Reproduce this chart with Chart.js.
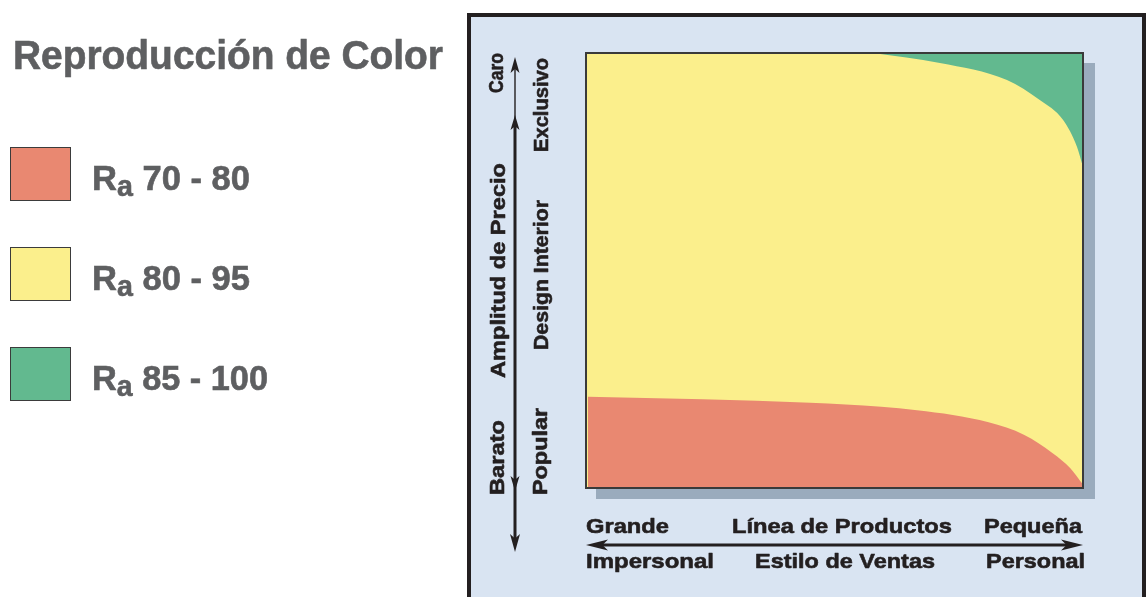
<!DOCTYPE html>
<html><head><meta charset="utf-8">
<script src="https://cdn.jsdelivr.net/npm/chart.js@4.4.1/dist/chart.umd.min.js"></script>
<style>
html,body{margin:0;padding:0;background:#fff;width:1148px;height:597px;overflow:hidden;}
#wrap{position:relative;width:1148px;height:597px;}
#c{position:absolute;left:0;top:0;}
.t{position:absolute;font-family:"Liberation Sans",Arial,sans-serif;font-weight:bold;color:#5e5f61;white-space:nowrap;transform-origin:0 0;line-height:1;-webkit-text-stroke:0.6px #5e5f61;}
.box{position:absolute;left:10px;width:61px;height:54px;box-sizing:border-box;border:1.5px solid #3b3b3b;}
.sub{font-size:29px;position:relative;top:6px;}
</style></head>
<body><div id="wrap">
<canvas id="c" width="1148" height="597"></canvas>
<div class="t" id="title" style="left:13px;top:35px;font-size:40px;" data-w="430">Reproducción de Color</div>
<div class="box" style="top:147px;background:#e98871;"></div>
<div class="box" style="top:247px;background:#fbef8c;"></div>
<div class="box" style="top:347px;background:#62b98f;"></div>
<div class="t" id="l1" style="left:92px;top:160px;font-size:35px;" data-w="158"><span>R</span><span class="sub">a</span><span> 70 - 80</span></div>
<div class="t" id="l2" style="left:92px;top:260px;font-size:35px;" data-w="158"><span>R</span><span class="sub">a</span><span> 80 - 95</span></div>
<div class="t" id="l3" style="left:92px;top:360px;font-size:35px;" data-w="176"><span>R</span><span class="sub">a</span><span> 85 - 100</span></div>
</div>
<script>
// ---- data (x: 0..100 across plot, y: 0..100 up) ----
const redX    = [0.4, 23.5, 45.1, 59.4, 66.6, 73.8, 81.0, 88.2, 93.9, 97.5, 100];
const redY    = [21.0, 20.4, 19.6, 18.7, 17.9, 16.8, 15.1, 12.2, 8.0, 4.5, 0.8];
const greenX  = [57.7, 71.2, 84.7, 91.3, 96.0, 98.8, 100];
const greenY  = [100, 97.7, 93.8, 89.2, 84.6, 78.4, 73.8];
const yellowX = [0, 100];
const yellowY = [100, 100];
const seriesLabels = ['Ra 70 - 80', 'Ra 80 - 95', 'Ra 85 - 100'];
const yLabelsOuter = ['Caro', 'Amplitud de Precio', 'Barato'];
const yLabelsInner = ['Exclusivo', 'Design Interior', 'Popular'];
const xLabelsTop = ['Grande', 'Línea de Productos', 'Pequeña'];
const xLabelsBottom = ['Impersonal', 'Estilo de Ventas', 'Personal'];

const FONT = '"Liberation Sans",Arial,sans-serif';
const pts = (xs, ys) => xs.map((x, i) => ({x, y: ys[i]}));

// fit HTML text widths
document.querySelectorAll('.t').forEach(el => {
  const w = +el.dataset.w; const r = el.getBoundingClientRect().width;
  if (w && r) el.style.transform = `scaleX(${w / r})`;
});

function fitText(ctx, text, x, y, width, size, rot) {
  ctx.save();
  ctx.font = `bold ${size}px ${FONT}`;
  const w0 = ctx.measureText(text).width;
  ctx.translate(x, y);
  if (rot) ctx.rotate(-Math.PI / 2);
  ctx.scale(width / w0, 1);
  ctx.textAlign = 'left'; ctx.textBaseline = 'alphabetic';
  ctx.lineWidth = 0.6; ctx.strokeStyle = ctx.fillStyle; ctx.lineJoin = 'round';
  ctx.fillText(text, 0, 0);
  ctx.strokeText(text, 0, 0);
  ctx.restore();
}
function head(ctx, tx, ty, dir, len, hw) {
  ctx.beginPath();
  if (dir === 'up') { ctx.moveTo(tx, ty); ctx.lineTo(tx - hw, ty + len); ctx.lineTo(tx, ty + len * 0.75); ctx.lineTo(tx + hw, ty + len); }
  if (dir === 'down') { ctx.moveTo(tx, ty); ctx.lineTo(tx - hw, ty - len); ctx.lineTo(tx, ty - len * 0.75); ctx.lineTo(tx + hw, ty - len); }
  if (dir === 'left') { ctx.moveTo(tx, ty); ctx.lineTo(tx + len, ty - hw); ctx.lineTo(tx + len * 0.75, ty); ctx.lineTo(tx + len, ty + hw); }
  if (dir === 'right') { ctx.moveTo(tx, ty); ctx.lineTo(tx - len, ty - hw); ctx.lineTo(tx - len * 0.75, ty); ctx.lineTo(tx - len, ty + hw); }
  ctx.closePath(); ctx.fill();
}

const decor = {
  id: 'decor',
  beforeDraw(chart) {
    const ctx = chart.ctx, a = chart.chartArea;
    ctx.save();
    ctx.fillStyle = '#ffffff'; ctx.fillRect(0, 0, chart.width, chart.height);
    ctx.fillStyle = '#d9e4f2'; ctx.fillRect(467, 13, 679, 600);
    ctx.fillStyle = '#231f20';
    ctx.fillRect(467, 13, 4, 600); ctx.fillRect(467, 13, 679, 4); ctx.fillRect(1142, 13, 4, 600);
    ctx.fillStyle = '#9aabbd';
    ctx.fillRect(a.left + 10, a.top + 10, a.width + 2, a.height + 1);
    ctx.restore();
  },
  afterDatasetsDraw(chart) {
    const ctx = chart.ctx, a = chart.chartArea;
    ctx.save();
    ctx.strokeStyle = '#3a3a3a'; ctx.lineWidth = 2;
    ctx.strokeRect(a.left, a.top, a.width, a.height);
    // vertical arrow
    ctx.strokeStyle = '#231f20'; ctx.fillStyle = '#231f20';
    ctx.lineWidth = 1.4; ctx.beginPath(); ctx.moveTo(515, 68); ctx.lineTo(515, 120); ctx.stroke();
    ctx.lineWidth = 3; ctx.beginPath(); ctx.moveTo(515, 122); ctx.lineTo(515, 540); ctx.stroke();
    head(ctx, 515, 57, 'up', 16, 4.5);
    head(ctx, 515, 115, 'up', 15, 4.5);
    head(ctx, 515, 491, 'down', 15, 4.5);
    head(ctx, 515, 552, 'down', 18, 5);
    // horizontal arrow
    ctx.lineWidth = 3; ctx.beginPath(); ctx.moveTo(600, 545); ctx.lineTo(1070, 545); ctx.stroke();
    head(ctx, a.left, 545, 'left', 22, 5.5);
    head(ctx, a.right, 545, 'right', 22, 5.5);
    // labels
    ctx.fillStyle = '#231f20';
    fitText(ctx, xLabelsTop[0], 586, 533, 83, 21);
    fitText(ctx, xLabelsTop[1], 732, 533, 220, 21);
    fitText(ctx, xLabelsTop[2], 984, 533, 98, 21);
    fitText(ctx, xLabelsBottom[0], 586, 568, 128, 21);
    fitText(ctx, xLabelsBottom[1], 755, 568, 180, 21);
    fitText(ctx, xLabelsBottom[2], 986, 568, 99, 21);
    fitText(ctx, yLabelsOuter[0], 503, 93, 40, 21, true);
    fitText(ctx, yLabelsOuter[1], 505, 378, 215, 21, true);
    fitText(ctx, yLabelsOuter[2], 504, 495, 75, 21, true);
    fitText(ctx, yLabelsInner[0], 548, 152, 94, 21, true);
    fitText(ctx, yLabelsInner[1], 548, 350, 150, 21, true);
    fitText(ctx, yLabelsInner[2], 547, 495, 87, 21, true);
    ctx.restore();
  }
};

new Chart(document.getElementById('c'), {
  type: 'line',
  data: {
    datasets: [
      { label: seriesLabels[0], data: pts(redX, redY), backgroundColor: '#e98871', borderWidth: 0, pointRadius: 0, fill: 'origin', cubicInterpolationMode: 'monotone' },
      { label: seriesLabels[2], data: pts(greenX, greenY), backgroundColor: '#62b98f', borderWidth: 0, pointRadius: 0, fill: 'end', cubicInterpolationMode: 'monotone' },
      { label: seriesLabels[1], data: pts(yellowX, yellowY), backgroundColor: '#fbef8c', borderWidth: 0, pointRadius: 0, fill: 'origin' }
    ]
  },
  options: {
    responsive: false, animation: false, devicePixelRatio: 1,
    layout: { padding: { left: 586, top: 53, right: 65, bottom: 109 } },
    scales: {
      x: { type: 'linear', min: 0, max: 100, display: false },
      y: { type: 'linear', min: 0, max: 100, display: false }
    },
    plugins: { legend: { display: false }, tooltip: { enabled: false } }
  },
  plugins: [decor]
});
</script>
</body></html>
